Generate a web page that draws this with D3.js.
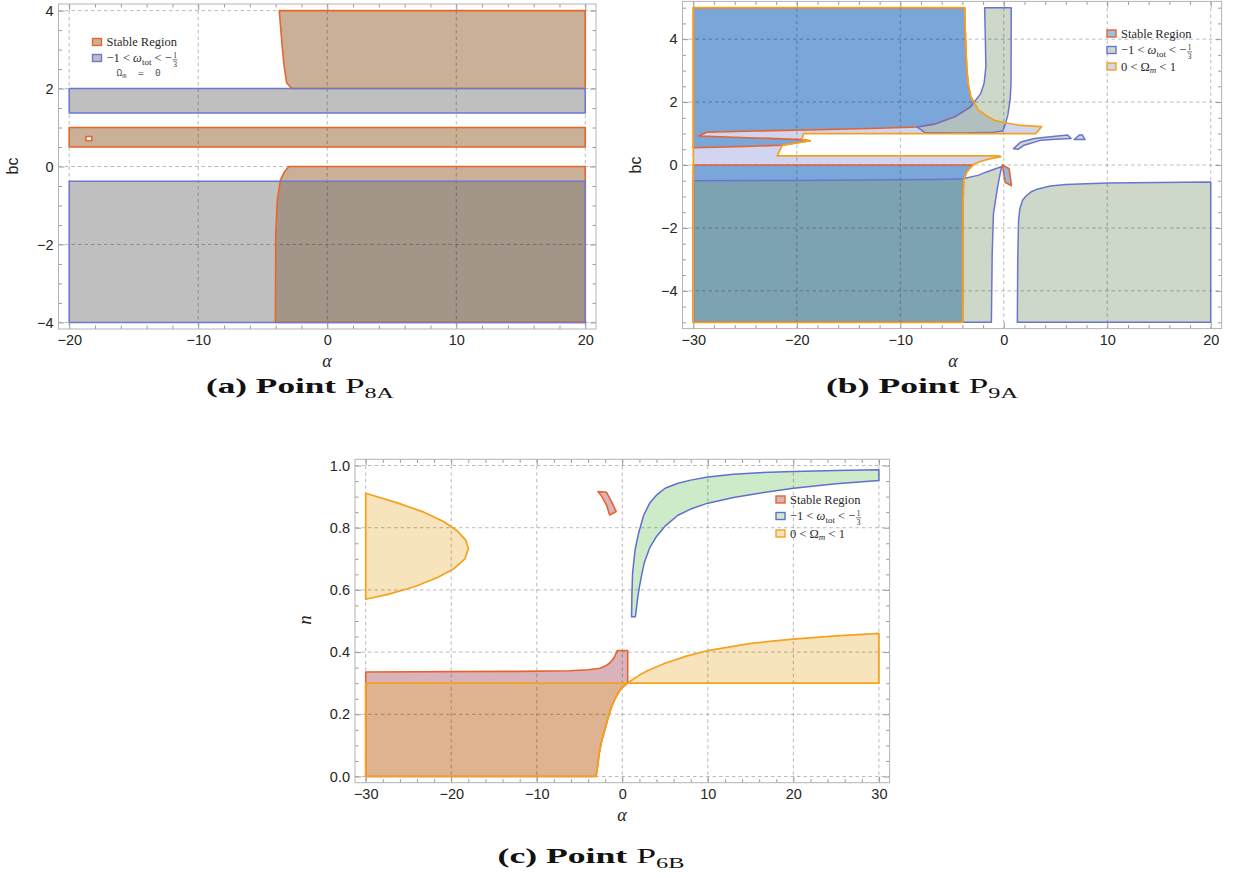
<!DOCTYPE html>
<html><head><meta charset="utf-8">
<script src="https://cdn.jsdelivr.net/npm/d3@7/dist/d3.min.js"></script>
<style>body{margin:0;background:#fff}</style>
</head><body>
<svg id="chart" width="1241" height="878" xmlns="http://www.w3.org/2000/svg"></svg>
<script>
// ======================= DATA =======================
// ---- Panel (a): Point P8A, alpha vs bc ----
const aXTicks = [-20, -10, 0, 10, 20];
const aYTicks = [-4, -2, 0, 2, 4];
const aStableTop  = [[-3.72,4],[20,4],[20,2],[-2.68,2],[-2.9,2.05],[-3.15,2.15],[-3.35,2.6],[-3.5,3.1],[-3.62,3.6]];
const aStableBand = [[-20,0.5],[20,0.5],[20,1.0],[-20,1.0]];
const aStableHole = [[-18.7,0.66],[-18.25,0.66],[-18.25,0.77],[-18.7,0.77]];
const aStableLow  = [[-2.98,0],[20,0],[20,-4],[-4.02,-4],[-3.99,-1.72],[-3.87,-0.86],[-3.63,-0.35],[-3.33,-0.14]];
const aOmegaTop   = [[-20,1.37],[20,1.37],[20,2],[-20,2]];
const aOmegaLow   = [[-20,-4],[20,-4],[20,-0.38],[-20,-0.38]];

// ---- Panel (b): Point P9A, alpha vs bc ----
const bXTicks = [-30, -20, -10, 0, 10, 20];
const bYTicks = [-4, -2, 0, 2, 4];
const bOmegaM = [[-30,-5],[-3.97,-5],[-3.95,-1.5],[-3.89,-0.49],[-3.58,-0.22],[-3.3,-0.1],[-2.81,0.04],[-2.2,0.12],
  [-1.66,0.17],[-1.0,0.22],[-0.3,0.26],[-0.45,0.29],[-21.9,0.29],[-21.4,0.63],[-18.7,0.77],[-19.5,0.81],[-19.35,1.0],
  [3.1,1.0],[3.65,1.22],[1.4,1.27],[0,1.35],[-0.89,1.42],[-1.6,1.55],[-2.43,1.74],[-2.9,2.0],[-3.2,2.17],[-3.45,2.6],
  [-3.58,3.1],[-3.7,4],[-3.78,5],[-30,5]];
const bStableUp = [[-30,5],[-3.78,5],[-3.7,4],[-3.58,3.1],[-3.45,2.6],[-3.2,2.17],[-2.9,2.0],[-3.2,1.85],[-4.74,1.53],
  [-6.67,1.3],[-8.4,1.21],[-12,1.17],[-18,1.12],[-24,1.08],[-28.7,1.04],[-29.5,0.92],[-24,0.86],[-19.5,0.81],
  [-18.7,0.77],[-21.4,0.63],[-25,0.59],[-30,0.55]];
const bStableLow = [[-30,0],[-2.93,0],[-3.3,-0.1],[-3.58,-0.22],[-3.89,-0.49],[-3.95,-1.5],[-3.97,-5],[-30,-5]];
const bStableBit = [[-0.13,0.0],[0.52,-0.12],[0.74,-0.66],[0.13,-0.55]];
const bOmegaTotUp = [[-1.85,5],[-1.78,4],[-1.73,3.12],[-1.9,2.6],[-2.23,2.27],[-3.2,1.85],[-4.74,1.53],[-6.67,1.3],
  [-8.4,1.21],[-7.6,1.03],[-4,1.02],[-1,1.04],[-0.1,1.08],[0.15,1.3],[0.4,1.6],[0.62,2.1],[0.7,2.6],[0.72,5]];
const bOmegaTotLowL = [[-30,-0.5],[-20,-0.49],[-10,-0.47],[-5,-0.45],[-3.97,-0.44],[-2.5,-0.33],[-1.66,-0.22],
  [-0.8,-0.12],[-0.2,-0.05],[-0.4,-0.35],[-0.65,-0.8],[-1.0,-1.55],[-1.12,-2.83],[-1.2,-5],[-30,-5]];
const bOmegaTotLowR = [[1.31,-5],[20,-5],[20,-0.54],[10,-0.57],[6,-0.62],[4.5,-0.67],[3.3,-0.76],[2.6,-0.86],
  [2.1,-1.0],[1.8,-1.13],[1.55,-1.4],[1.43,-1.76],[1.35,-3]];
const bOmegaTotArc = [[0.94,0.52],[1.3,0.63],[1.65,0.73],[2.94,0.84],[4.5,0.9],[6.17,0.95],[6.5,0.84],[5,0.82],
  [3.6,0.79],[1.97,0.63],[1.39,0.5]];
const bOmegaTotBump = [[6.8,0.81],[7.3,0.95],[7.6,0.95],[7.85,0.81]];

// ---- Panel (c): Point P6B, alpha vs n ----
const cXTicks = [-30, -20, -10, 0, 10, 20, 30];
const cYTicks = [0, 0.2, 0.4, 0.6, 0.8, 1.0];
const cOmegaMLeft = [[-30,0.911],[-26.3,0.88],[-23.2,0.85],[-20.9,0.82],[-19.3,0.79],[-18.3,0.76],[-18.0,0.732],
  [-18.4,0.70],[-19.6,0.67],[-21.6,0.64],[-24.3,0.61],[-27.5,0.585],[-30,0.570]];
const cOmegaMLow = [[-30,0],[-3.06,0],[-2.85,0.04],[-2.7,0.074],[-2.45,0.11],[-2.16,0.138],[-1.7,0.185],
  [-1.26,0.224],[-0.7,0.258],[-0.13,0.283],[0.6,0.3],[-30,0.3]];
const cOmegaMHigh = [[0.6,0.3],[1,0.308],[2,0.326],[3,0.341],[5,0.364],[7.5,0.387],[10,0.405],[15,0.428],
  [20,0.442],[25,0.452],[30,0.46],[30,0.3]];
const cStable = [[-30,0],[-3.06,0],[-2.85,0.04],[-2.7,0.074],[-2.45,0.11],[-2.16,0.138],[-1.7,0.185],[-1.26,0.224],
  [-0.7,0.258],[-0.13,0.283],[0.63,0.3],[0.63,0.405],[-0.58,0.405],[-0.75,0.395],[-0.9,0.385],[-1.2,0.374],
  [-1.5,0.364],[-2.0,0.355],[-2.6,0.348],[-4,0.343],[-6.2,0.34],[-12,0.338],[-30,0.336]];
const cStableBit = [[-2.83,0.916],[-1.84,0.914],[-1.17,0.879],[-0.72,0.852],[-1.48,0.841],[-1.84,0.873],[-2.38,0.9]];
const cOmegaTot = [[1.08,0.514],[1.12,0.58],[1.2,0.653],[1.5,0.73],[1.9,0.782],[2.5,0.84],[3.2,0.879],[4,0.905],
  [5,0.927],[6.5,0.943],[8,0.953],[10,0.963],[13,0.972],[16,0.977],[20,0.981],[25,0.984],[30,0.986],
  [30,0.952],[25,0.941],[20,0.927],[16,0.911],[13,0.897],[10,0.879],[8,0.86],[6.5,0.84],[5,0.805],[4,0.772],
  [3.2,0.735],[2.6,0.69],[2.3,0.653],[2.0,0.61],[1.8,0.575],[1.65,0.54],[1.53,0.514]];

// ======================= DRAWING =======================
const svg = d3.select("#chart");
const SERIF = "'Liberation Serif','Times New Roman',serif";
const SANS = "'Liberation Sans',Arial,sans-serif";

function setup(cfg) {
  const x = d3.scaleLinear().domain(cfg.xDom).range([cfg.L, cfg.R]);
  const y = d3.scaleLinear().domain(cfg.yDom).range([cfg.B, cfg.T]);
  const g = svg.append("g");
  const line = d3.line().x(d => x(d[0])).y(d => y(d[1]));
  return Object.assign({}, cfg, {x, y, g, line,
    fills: g.append("g"), grid: g.append("g"), strokes: g.append("g"),
    axes: g.append("g"), frame: g.append("g"), legend: g.append("g")});
}
function pathD(P, polys) { return polys.map(p => P.line(p) + "Z").join(" "); }
function fillShape(P, polys, color, op) {
  P.fills.append("path").attr("d", pathD(P, polys)).attr("fill", color)
    .attr("fill-opacity", op).attr("fill-rule", "evenodd").attr("stroke", "none");
}
function strokeShape(P, polys, color, w) {
  P.strokes.append("path").attr("d", pathD(P, polys)).attr("fill", "none")
    .attr("stroke", color).attr("stroke-width", w).attr("stroke-linejoin", "round");
}
function gridAndAxes(P, xt, yt, xStep, yStep, fx, fy) {
  xt.forEach(v => P.grid.append("line").attr("x1", P.x(v)).attr("x2", P.x(v)).attr("y1", P.T).attr("y2", P.B));
  yt.forEach(v => P.grid.append("line").attr("y1", P.y(v)).attr("y2", P.y(v)).attr("x1", P.L).attr("x2", P.R));
  P.grid.selectAll("line").attr("stroke", "#000").attr("stroke-opacity", 0.3)
    .attr("stroke-width", 0.9).attr("stroke-dasharray", "3.5,3");
  const near = (v, arr) => arr.some(t => Math.abs(t - v) < 1e-6);
  const xMinor = d3.range(Math.ceil(P.xDom[0] / xStep) * xStep, P.xDom[1], xStep).filter(v => !near(v, xt));
  const yMinor = d3.range(Math.ceil(P.yDom[0] / yStep - 1e-9) * yStep, P.yDom[1], yStep).filter(v => !near(v, yt));
  const sides = [
    ["axisBottom", P.x, `translate(0,${P.B})`, xt, xMinor, fx],
    ["axisTop", P.x, `translate(0,${P.T})`, xt, xMinor, null],
    ["axisLeft", P.y, `translate(${P.L},0)`, yt, yMinor, fy],
    ["axisRight", P.y, `translate(${P.R},0)`, yt, yMinor, null]];
  sides.forEach(([fn, sc, tr, maj, min, fmt]) => {
    const gMaj = P.axes.append("g").attr("transform", tr)
      .call(d3[fn](sc).tickValues(maj).tickSizeInner(-6).tickSizeOuter(0).tickPadding(fn === "axisLeft" ? 5 : 6)
        .tickFormat(fmt ? fmt : () => ""));
    const gMin = P.axes.append("g").attr("transform", tr)
      .call(d3[fn](sc).tickValues(min).tickSizeInner(-3.5).tickSizeOuter(0).tickFormat(() => ""));
    [gMaj, gMin].forEach(s => { s.select(".domain").remove(); s.selectAll("line").attr("stroke", "#9a9a9a"); });
    gMaj.attr("font-family", SANS).attr("font-size", 14.5);
    gMaj.selectAll("text").attr("fill", "#262626");
  });
  P.frame.append("rect").attr("x", P.L).attr("y", P.T).attr("width", P.R - P.L).attr("height", P.B - P.T)
    .attr("fill", "none").attr("stroke", "#b4b4b4").attr("stroke-width", 1);
}
function axisLabels(P, xl, yl, xPos, yPos, ySans) {
  P.g.append("text").attr("x", xPos[0]).attr("y", xPos[1]).attr("text-anchor", "middle")
    .attr("font-family", SERIF).attr("font-style", "italic").attr("font-size", 18).attr("fill", "#262626").text(xl);
  P.g.append("text").attr("transform", `translate(${yPos[0]},${yPos[1]}) rotate(-90)`).attr("text-anchor", "middle")
    .attr("font-family", ySans ? SANS : SERIF).attr("font-style", ySans ? "normal" : "italic")
    .attr("font-size", ySans ? 16 : 19).attr("fill", "#262626").text(yl);
}
function legendRow(P, x0, base, fill, stroke, kind) {
  const L = P.legend;
  if (kind !== "om0") {
    L.append("rect").attr("x", x0).attr("y", base - 7.5).attr("width", 9).attr("height", 7)
      .attr("fill", fill).attr("stroke", stroke).attr("stroke-width", 1.4);
  }
  const tx = x0 + 14;
  const t = L.append("text").attr("x", tx).attr("y", base).attr("font-family", SERIF)
    .attr("font-size", 12.5).attr("fill", "#2a2a2a");
  if (kind === "stable") t.text("Stable Region");
  else if (kind === "omega") {
    t.append("tspan").text("\u22121 < ");
    t.append("tspan").attr("font-style", "italic").text("\u03c9");
    t.append("tspan").attr("font-size", 9).attr("dy", 2.5).text("tot");
    t.append("tspan").attr("dy", -2.5).text(" < \u2212");
    const w = t.node().getComputedTextLength();
    const fx = tx + w + 3.2;
    L.append("text").attr("x", fx).attr("y", base - 3.8).attr("text-anchor", "middle")
      .attr("font-family", SERIF).attr("font-size", 7.5).attr("fill", "#2a2a2a").text("1");
    L.append("text").attr("x", fx).attr("y", base + 5.3).attr("text-anchor", "middle")
      .attr("font-family", SERIF).attr("font-size", 7.5).attr("fill", "#2a2a2a").text("3");
    L.append("line").attr("x1", fx - 2.6).attr("x2", fx + 2.6).attr("y1", base - 2.2).attr("y2", base - 2.2)
      .attr("stroke", "#2a2a2a").attr("stroke-width", 0.6);
  } else if (kind === "om") {
    t.append("tspan").text("0 < \u03a9");
    t.append("tspan").attr("font-style", "italic").attr("font-size", 9).attr("dy", 2.5).text("m");
    t.append("tspan").attr("dy", -2.5).text(" < 1");
  } else if (kind === "om0") {
    t.attr("x", x0 + 24).attr("font-family", "'DejaVu Sans Mono',monospace").attr("font-size", 9.5).attr("fill", "#555");
    t.append("tspan").text("\u03a9");
    t.append("tspan").attr("font-size", 7).attr("dy", 2).text("m");
    t.append("tspan").attr("dy", -2).attr("xml:space", "preserve").text("  =  0");
  }
}
function caption(cx, base, letter, sub, targetW) {
  const t = svg.append("text").attr("x", 0).attr("y", 0).attr("font-family", SERIF).attr("font-size", 22)
    .attr("fill", "#111");
  t.append("tspan").attr("font-weight", "bold").text(`(${letter}) Point `);
  t.append("tspan").text("P");
  t.append("tspan").attr("font-size", 15).attr("dy", 5).text(sub);
  const w = t.node().getComputedTextLength();
  const s = targetW / w;
  t.attr("transform", `translate(${cx - targetW / 2},${base}) scale(${s},1)`);
}

const fmtI = d3.format("d"), fmt1 = d3.format(".1f");

// ---------- Panel (a) ----------
const PA = setup({L: 58.5, R: 596, T: 4, B: 329, xDom: [-20.83, 20.83], yDom: [-4.17, 4.17]});
const aS = "rgb(201,176,151)", aW = "rgb(122,122,122)";
fillShape(PA, [aStableTop], aS, 1);
fillShape(PA, [aStableBand, aStableHole], aS, 1);
fillShape(PA, [aStableLow], aS, 1);
fillShape(PA, [aOmegaTop], aW, 0.48);
fillShape(PA, [aOmegaLow], aW, 0.48);
gridAndAxes(PA, aXTicks, aYTicks, 2, 0.5, fmtI, fmtI);
strokeShape(PA, [aStableTop, aStableBand, aStableHole, aStableLow], "#e8652c", 1.6);
strokeShape(PA, [aOmegaTop, aOmegaLow], "#6b79cf", 1.5);
axisLabels(PA, "\u03b1", "bc", [327, 367], [18, 166], true);
legendRow(PA, 92.5, 46, aS, "#e8652c", "stable");
legendRow(PA, 92.5, 62, "rgb(190,190,192)", "#6b79cf", "omega");
legendRow(PA, 92.5, 76, null, null, "om0");

// ---------- Panel (b) ----------
const PB = setup({L: 682.5, R: 1221.6, T: 1.4, B: 328.6, xDom: [-31.05, 21.05], yDom: [-5.2, 5.2]});
const bM = "rgb(126,135,212)", bS = "rgb(34,119,196)", bW = "rgb(130,157,117)";
fillShape(PB, [bOmegaM], bM, 0.35);
fillShape(PB, [bStableUp], bS, 0.5);
fillShape(PB, [bStableLow], bS, 0.5);
fillShape(PB, [bStableBit], bS, 0.5);
fillShape(PB, [bOmegaTotUp], bW, 0.4);
fillShape(PB, [bOmegaTotLowL], bW, 0.4);
fillShape(PB, [bOmegaTotLowR], bW, 0.4);
fillShape(PB, [bOmegaTotArc], bW, 0.4);
fillShape(PB, [bOmegaTotBump], bW, 0.4);
gridAndAxes(PB, bXTicks, bYTicks, 2, 0.5, fmtI, fmtI);
strokeShape(PB, [bStableUp, bStableLow, bStableBit], "#e8632b", 1.6);
strokeShape(PB, [bOmegaTotUp, bOmegaTotLowL, bOmegaTotLowR, bOmegaTotArc, bOmegaTotBump], "#6a75cf", 1.5);
strokeShape(PB, [bOmegaM], "#f4a21e", 1.7);
axisLabels(PB, "\u03b1", "bc", [953, 367], [641, 165], true);
legendRow(PB, 1107, 37.5, "rgb(150,194,228)", "#e8632b", "stable");
legendRow(PB, 1107, 54, "rgb(205,216,200)", "#6a75cf", "omega");
legendRow(PB, 1107, 70.5, "rgb(210,213,240)", "#f4a21e", "om");

// ---------- Panel (c) ----------
const PC = setup({L: 355, R: 889.6, T: 459.3, B: 782.7, xDom: [-31.25, 31.25], yDom: [-0.02, 1.02]});
const cS = "rgb(218,179,186)", cM = "rgb(236,180,69)", cW = "rgb(116,200,105)";
fillShape(PC, [cStable], cS, 1);
fillShape(PC, [cStableBit], cS, 1);
fillShape(PC, [cOmegaTot], cW, 0.36);
fillShape(PC, [cOmegaMLeft], cM, 0.36);
fillShape(PC, [cOmegaMLow], cM, 0.36);
fillShape(PC, [cOmegaMHigh], cM, 0.36);
gridAndAxes(PC, cXTicks, cYTicks, 2, 0.05, fmtI, fmt1);
strokeShape(PC, [cStable, cStableBit], "#e8632b", 1.6);
strokeShape(PC, [cOmegaTot], "#5f6fd0", 1.5);
strokeShape(PC, [cOmegaMLeft, cOmegaMLow, cOmegaMHigh], "#f4a21e", 1.7);
axisLabels(PC, "\u03b1", "n", [622, 821], [311, 620], false);
legendRow(PC, 776, 503.5, cS, "#e8632b", "stable");
legendRow(PC, 776, 520, "rgb(205,235,201)", "#5f6fd0", "omega");
legendRow(PC, 776, 537.5, "rgb(248,228,188)", "#f4a21e", "om");

// ---------- Captions ----------
caption(300, 393, "a", "8A", 188);
caption(922, 393, "b", "9A", 192);
caption(591, 863, "c", "6B", 187);
</script>
</body></html>
